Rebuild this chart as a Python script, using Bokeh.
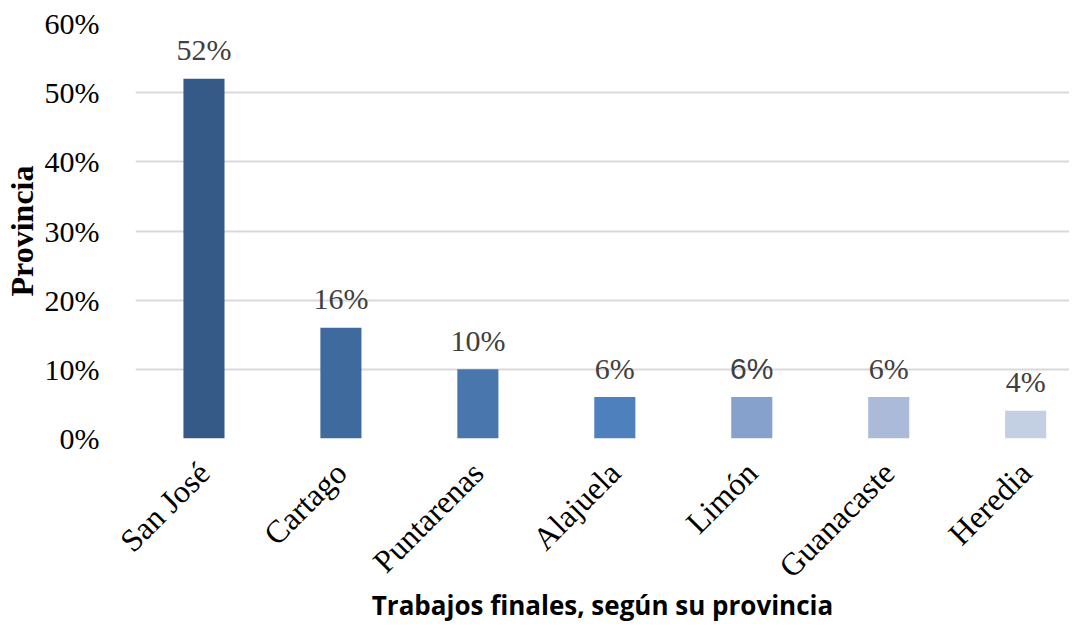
import math
from bokeh.plotting import figure
from bokeh.models import ColumnDataSource, Range1d, FixedTicker, NumeralTickFormatter
from bokeh.embed import file_html
from bokeh.resources import INLINE

provincias = ["San José", "Cartago", "Puntarenas", "Alajuela", "Limón", "Guanacaste", "Heredia"]
porcentajes = [0.52, 0.16, 0.10, 0.06, 0.06, 0.06, 0.04]
colores = ["#355A87", "#3F6A9E", "#4A76AE", "#4E80BD", "#86A2CC", "#AABAD8", "#C3CFE3"]
etiquetas = [f"{round(v * 100)}%" for v in porcentajes]
fuentes_etiqueta = ["Liberation Serif", "Liberation Serif", "Liberation Serif", "Liberation Serif",
                    "Liberation Sans", "Liberation Serif", "Liberation Serif"]
y_ticks = [0, 0.1, 0.2, 0.3, 0.4, 0.5, 0.6]

xs = list(range(len(provincias)))
src = ColumnDataSource(dict(x=xs, top=porcentajes, color=colores, label=etiquetas, font=fuentes_etiqueta))

p = figure(width=1069, height=626, output_backend="svg", toolbar_location=None,
           x_range=Range1d(-0.5, 6.32), y_range=Range1d(0, 0.6),
           min_border_left=127, min_border_right=0, min_border_top=23, min_border_bottom=150)
p.outline_line_color = None

p.vbar(x="x", top="top", width=0.3, bottom=0, fill_color="color", line_color=None, source=src)
p.text(x="x", y="top", text="label", source=src, text_align="center", text_baseline="alphabetic",
       y_offset=-29, text_font="font", text_font_size="30px", text_color="#404040")

# y axis
p.yaxis.ticker = FixedTicker(ticks=y_ticks)
p.yaxis.formatter = NumeralTickFormatter(format="0%")
p.yaxis.axis_line_color = None
p.yaxis.major_tick_line_color = None
p.yaxis.minor_tick_line_color = None
p.yaxis.major_label_standoff = 30
p.yaxis.major_label_text_font = "Liberation Serif"
p.yaxis.major_label_text_font_size = "30px"
p.yaxis.major_label_text_color = "#000000"
p.yaxis.axis_label = "Provincia"
p.yaxis.axis_label_text_font = "Liberation Serif"
p.yaxis.axis_label_text_font_style = "bold"
p.yaxis.axis_label_text_font_size = "32px"
p.yaxis.axis_label_text_color = "#000000"
p.yaxis.axis_label_standoff = 2

# x axis
p.xaxis.ticker = FixedTicker(ticks=xs)
p.xaxis.major_label_overrides = {i: n for i, n in enumerate(provincias)}
p.xaxis.major_label_orientation = math.pi / 4
p.xaxis.axis_line_color = None
p.xaxis.major_tick_line_color = None
p.xaxis.minor_tick_line_color = None
p.xaxis.major_label_standoff = 23
p.xaxis.major_label_text_font = "Liberation Serif"
p.xaxis.major_label_text_font_size = "32px"
p.xaxis.major_label_text_color = "#000000"
p.xaxis.axis_label = "Trabajos finales, según su provincia"
p.xaxis.axis_label_text_font = "Open Sans"
p.xaxis.axis_label_text_font_style = "bold"
p.xaxis.axis_label_text_font_size = "26px"
p.xaxis.axis_label_text_color = "#000000"
p.xaxis.axis_label_standoff = -13

p.xgrid.grid_line_color = None
p.ygrid.ticker = FixedTicker(ticks=y_ticks)
p.ygrid.grid_line_color = "#D9D9D9"
p.ygrid.grid_line_width = 2

open("out.html", "w").write(file_html(p, INLINE))
